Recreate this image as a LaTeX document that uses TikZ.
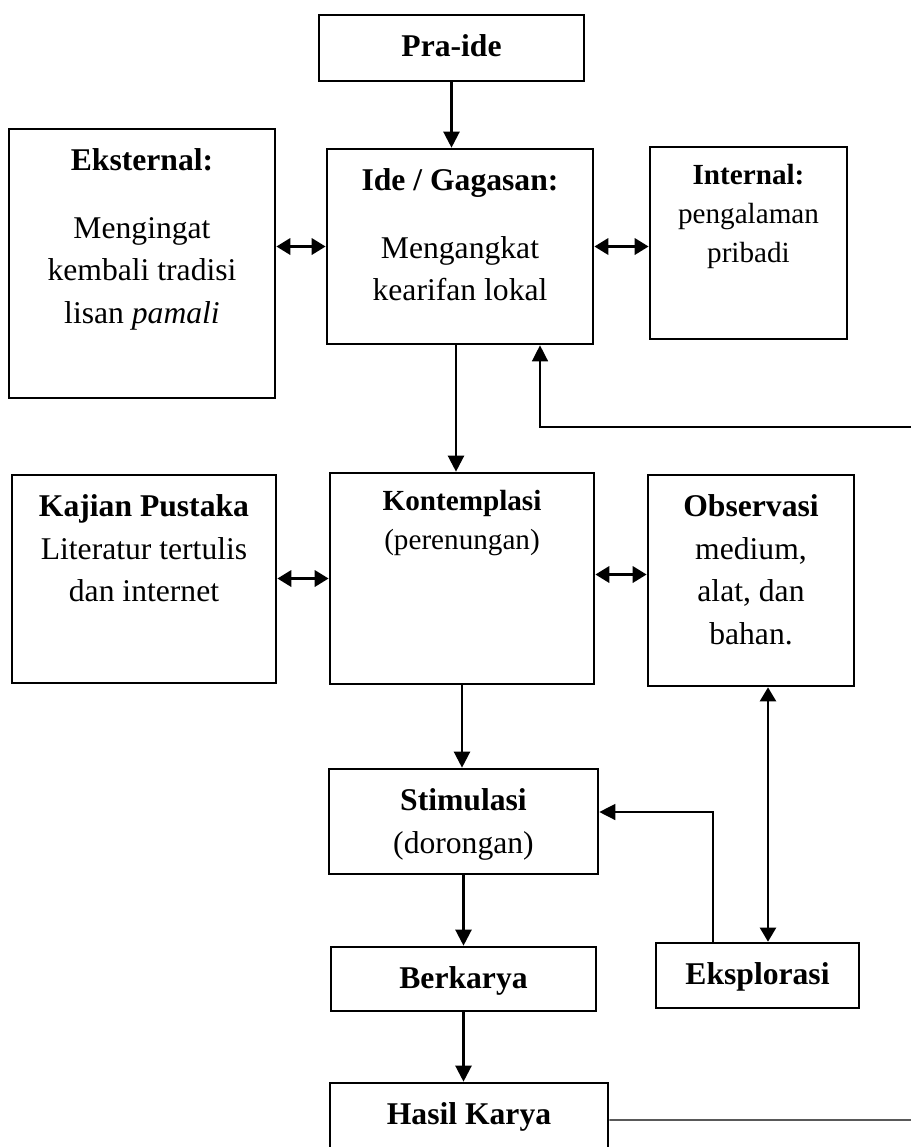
\documentclass[tikz,border=0pt]{standalone}
\usepackage{fontspec}
\setmainfont{Liberation Serif}
\usepackage{tikz}
\usetikzlibrary{arrows.meta,calc}
\newcommand{\boxbody}[3]{\parbox[c][#2][t]{#1}{\centering\rule{0pt}{1.3em}#3}}
\tikzset{
  font=\fontsize{18}{24.4}\selectfont,
  box/.style={draw,line width=1.5pt,inner sep=0pt},
  smalltext/.style={font=\fontsize{16.6}{22}\selectfont},
  flow/.style={-{Triangle[length=3.2mm,width=3.2mm]},line width=1.3pt},
  link/.style={{Triangle[length=2.8mm,width=3.2mm]}-{Triangle[length=2.8mm,width=3.2mm]},line width=1.9pt},
  feedback/.style={line width=.8pt}
}
\begin{document}
\begin{tikzpicture}
\useasboundingbox (0,0) rectangle (18.22,-22.94);
\clip (0,0) rectangle (18.22,-22.94);

\node[box] (praide) at (9.03,-0.96) {\boxbody{5.30cm}{1.32cm}{\textbf{Pra-ide}}};
\node[box] (eksternal) at (2.84,-5.27) {\boxbody{5.32cm}{5.38cm}{\textbf{Eksternal:}\\[0.5cm]Mengingat\\kembali tradisi\\lisan \textit{pamali}}};
\node[box] (ide) at (9.20,-4.93) {\boxbody{5.32cm}{3.90cm}{\textbf{Ide / Gagasan:}\\[0.5cm]Mengangkat\\kearifan lokal}};
\node[box,smalltext] (internal) at (14.97,-4.86) {\boxbody{3.94cm}{3.84cm}{\textbf{Internal:}\\pengalaman\\pribadi}};

\node[box] (kajian) at (2.88,-11.58) {\boxbody{5.28cm}{4.16cm}{\textbf{Kajian Pustaka}\\Literatur tertulis\\dan internet}};
\node[box,smalltext] (kontemplasi) at (9.24,-11.57) {\boxbody{5.28cm}{4.22cm}{\textbf{Kontemplasi}\\(perenungan)}};
\node[box] (observasi) at (15.02,-11.61) {\boxbody{4.12cm}{4.22cm}{\textbf{Observasi}\\medium,\\alat, dan\\bahan.}};

\node[box] (stimulasi) at (9.27,-16.43) {\boxbody{5.38cm}{2.10cm}{\textbf{Stimulasi}\\(dorongan)}};
\node[box] (berkarya) at (9.27,-19.58) {\boxbody{5.30cm}{1.28cm}{\textbf{Berkarya}}};
\node[box] (eksplorasi) at (15.15,-19.51) {\boxbody{4.06cm}{1.30cm}{\textbf{Eksplorasi}}};
\node[box] (hasil) at (9.38,-22.66) {\boxbody{5.56cm}{2.00cm}{\textbf{Hasil Karya}}};

\coordinate (ideback) at (18.22,-8.54);
\coordinate (hasilout) at (18.22,-22.40);

\draw[flow] (praide.south) -- (praide.south |- ide.north);
\draw[link] (ide.west -| eksternal.east) -- (ide.west);
\draw[link] (ide.east) -- (ide.east -| internal.west);
\draw[flow] ([xshift=-0.08cm]ide.south) -- ([xshift=-0.08cm]ide.south |- kontemplasi.north);
\draw[feedback,-{Triangle[length=3.2mm,width=3.2mm]}] (ideback) -| ([xshift=1.6cm]ide.south);

\draw[link] (kontemplasi.west -| kajian.east) -- (kontemplasi.west);
\draw[link] ([yshift=0.08cm]kontemplasi.east) -- ([yshift=0.08cm]kontemplasi.east -| observasi.west);
\draw[flow] (kontemplasi.south) -- (kontemplasi.south |- stimulasi.north);
\draw[link,line width=1.3pt] ([xshift=0.21cm]eksplorasi.north) -- ([xshift=0.21cm]eksplorasi.north |- observasi.south);

\draw[flow] (stimulasi.south) -- (stimulasi.south |- berkarya.north);
\draw[feedback,-{Triangle[length=3.2mm,width=3.2mm]}] ([xshift=-0.89cm]eksplorasi.north) |- ([yshift=0.19cm]stimulasi.east);
\draw[flow] (berkarya.south) -- (berkarya.south |- hasil.north);
\draw[feedback] ([yshift=0.26cm]hasil.east) -- (hasilout);
\end{tikzpicture}
\end{document}
